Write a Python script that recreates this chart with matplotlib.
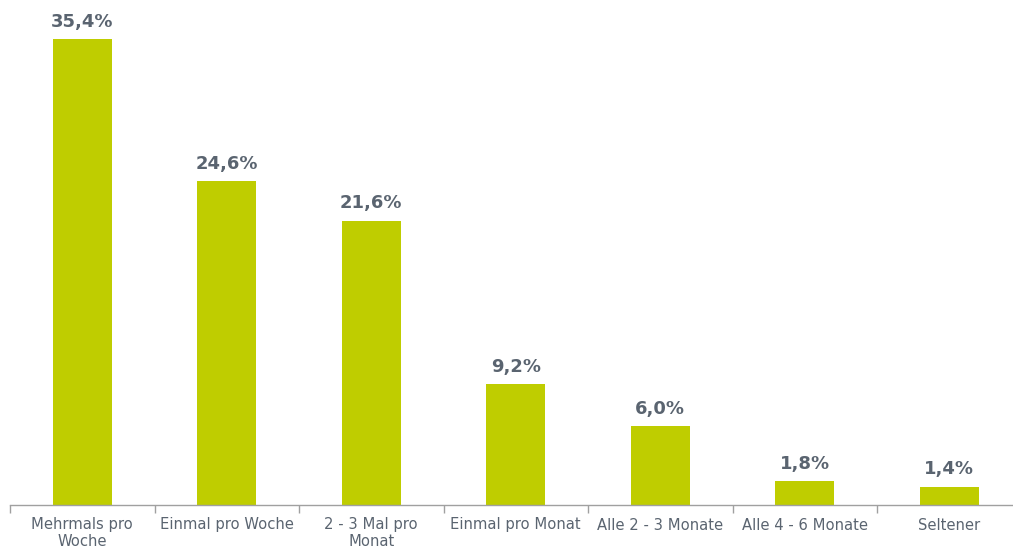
import matplotlib
matplotlib.use("Agg")
import matplotlib.pyplot as plt

categories = ["Mehrmals pro\nWoche", "Einmal pro Woche", "2 - 3 Mal pro\nMonat",
              "Einmal pro Monat", "Alle 2 - 3 Monate", "Alle 4 - 6 Monate", "Seltener"]
values = [35.4, 24.6, 21.6, 9.2, 6.0, 1.8, 1.4]
value_labels = ["35,4%", "24,6%", "21,6%", "9,2%", "6,0%", "1,8%", "1,4%"]

BAR_COLOR = "#bfcd00"
TEXT_COLOR = "#5a6470"
AXIS_COLOR = "#a0a0a0"

W, H = 1013, 549
fig = plt.figure(figsize=(W / 100, H / 100), dpi=100)
# axes from x=10px to right edge, baseline at y=505px, top at y=0
ax = fig.add_axes([10 / W, (H - 505) / H, (W - 10) / W, 505 / H])

x = list(range(len(values)))
ax.bar(x, values, width=0.41, color=BAR_COLOR, zorder=2)

for xi, v, lab in zip(x, values, value_labels):
    ax.annotate(lab, (xi, v), xytext=(0, 6), textcoords="offset points",
                ha="center", va="bottom", fontsize=13, fontweight="bold",
                color=TEXT_COLOR)

ax.set_xticks(x)
ax.set_xticklabels(categories, fontsize=10.6, color=TEXT_COLOR, linespacing=1.1)
ax.tick_params(axis="x", length=0, pad=9)
ax.set_xticks([i - 0.5 for i in range(len(values) + 1)], minor=True)
ax.tick_params(axis="x", which="minor", length=6, color=AXIS_COLOR, width=1)

# limits after ticks, so the minor ticks don't widen the view
step = 144.5
ax.set_xlim(-0.5, -0.5 + (W - 10) / step)
ax.set_ylim(0, 35.4 * 505 / 466)

ax.set_yticks([])
for side in ["top", "right", "left"]:
    ax.spines[side].set_visible(False)
ax.spines["bottom"].set_color(AXIS_COLOR)
ax.spines["bottom"].set_linewidth(1)

fig.savefig("out.png", dpi=100)
